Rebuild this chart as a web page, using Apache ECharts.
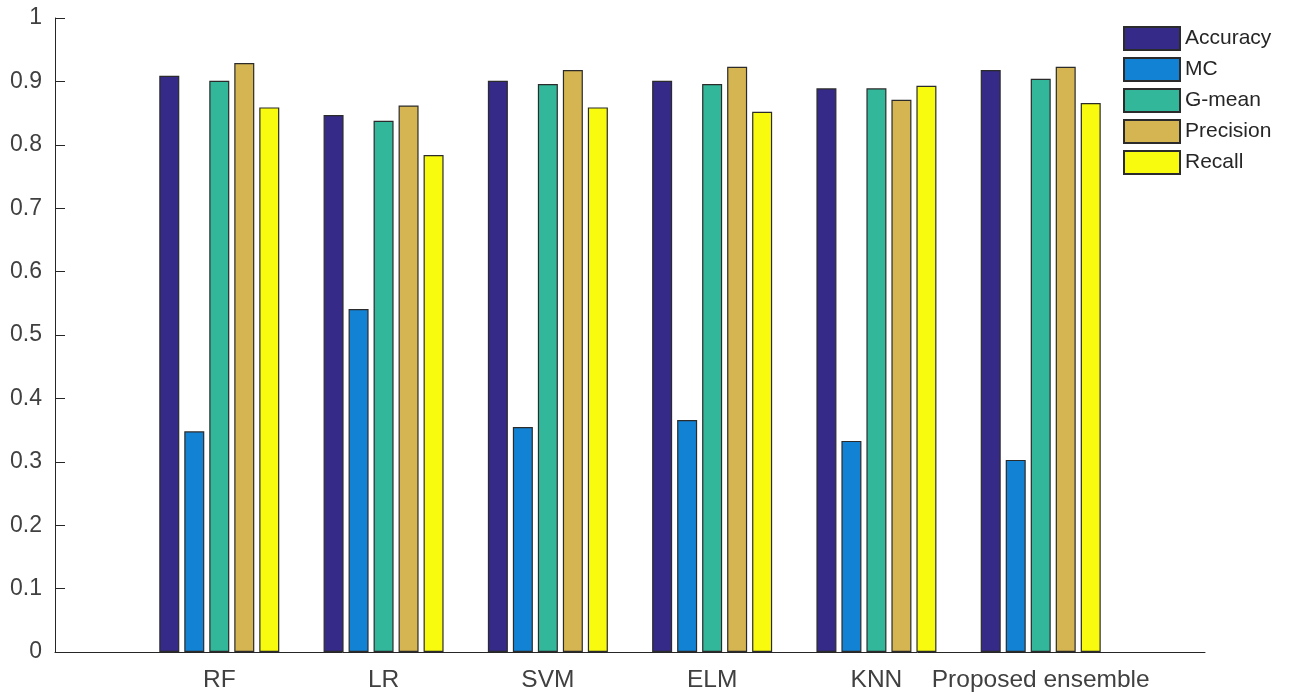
<!DOCTYPE html>
<html>
<head>
<meta charset="utf-8">
<script src="https://cdn.jsdelivr.net/npm/echarts@6/dist/echarts.min.js"></script>
<style>html,body{margin:0;padding:0;background:#fff}#c{width:1293px;height:698px}</style>
</head>
<body>
<div id="c"></div>
<script>
const categories = ['RF', 'LR', 'SVM', 'ELM', 'KNN', 'Proposed ensemble'];
const seriesNames = ['Accuracy', 'MC', 'G-mean', 'Precision', 'Recall'];
const accuracy  = [0.909, 0.847, 0.901, 0.901, 0.889, 0.918];
const mc        = [0.348, 0.541, 0.355, 0.366, 0.333, 0.303];
const gmean     = [0.901, 0.838, 0.896, 0.896, 0.889, 0.904];
const precision = [0.929, 0.862, 0.918, 0.923, 0.871, 0.923];
const recall    = [0.859, 0.784, 0.859, 0.852, 0.893, 0.866];
const colors = ['#352A87', '#1283D4', '#33B79A', '#D5B552', '#F9FB0E'];

const values = [accuracy, mc, gmean, precision, recall];
// pad an empty slot at each end so the categories sit at integer positions 1..6
const xData = [''].concat(categories, ['']);
const pad = arr => [null].concat(arr, [null]);

const chart = echarts.init(document.getElementById('c'), null, {renderer: 'canvas'});
chart.setOption({
  animation: false,
  backgroundColor: '#ffffff',
  textStyle: {fontFamily: 'Liberation Sans, Arial, sans-serif'},
  grid: {left: 55, right: 88, top: 18, bottom: 46, containLabel: false},
  legend: {
    orient: 'vertical',
    left: 1123, top: 26, padding: 0,
    itemWidth: 56, itemHeight: 23, itemGap: 6,
    icon: 'rect',
    textStyle: {fontSize: 21, color: '#262626', lineHeight: 25},
    data: seriesNames
  },
  xAxis: {
    type: 'category',
    data: xData,
    boundaryGap: false,
    axisLine: {lineStyle: {color: '#262626', width: 1}},
    axisTick: {show: false},
    axisLabel: {fontSize: 24.5, color: '#404040', margin: 16, interval: 0},
    splitLine: {show: false}
  },
  yAxis: {
    type: 'value',
    min: 0, max: 1, interval: 0.1,
    axisLine: {show: true, lineStyle: {color: '#262626', width: 1}},
    axisTick: {show: true, inside: true, length: 10, lineStyle: {color: '#262626'}},
    axisLabel: {fontSize: 23, color: '#404040', margin: 13},
    splitLine: {show: false}
  },
  series: seriesNames.map((name, i) => ({
    name: name,
    type: 'bar',
    data: pad(values[i]),
    barWidth: 20,
    barGap: '25%',
    itemStyle: {color: colors[i], borderColor: '#2b2b2b', borderWidth: 1.2}
  }))
});
</script>
</body>
</html>
